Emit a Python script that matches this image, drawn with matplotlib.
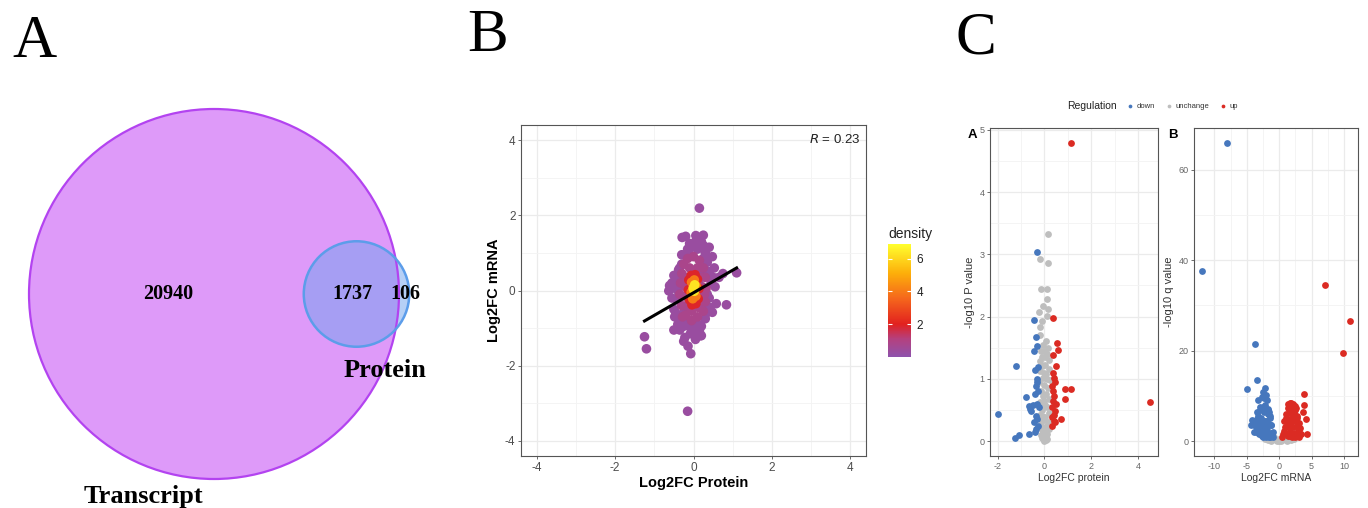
import numpy as np
import matplotlib.pyplot as plt
from matplotlib.patches import Circle
from matplotlib.colors import LinearSegmentedColormap, Normalize

plt.rcParams["axes.unicode_minus"] = False
plt.rcParams["font.family"] = ["Liberation Sans", "DejaVu Sans"]

# ---------------- data ----------------
# Venn counts
only_transcript = 20940
shared = 1737
only_protein = 106

b_outer_x = [0.15, -1.25, -1.20, -0.15, -0.07, -0.14, -0.50, -0.29, -0.20, 0.06,
             0.25, 0.20, 0.40, 0.48, 0.53, 1.10, 0.84, 0.58, 0.48, -0.63,
             -0.61, -0.22, 0.05, 0.15, -0.35, -0.05, 0.30, 0.65, 0.75, 0.35,
             -0.45, -0.50, -0.30, 0.10, -0.10, 0.30, -0.40, 0.20, -0.20, 0.45,
             -0.38, 0.40, -0.42, -0.55, 0.55, -0.45, 0.35, -0.25, 0.00, -0.12,
             0.12, -0.30, 0.25, 0.38, -0.48, -0.08, 0.18, -0.35, -0.40, -0.25,
             0.35, 0.40, 0.25, -0.15, 0.05, -0.30, 0.10, -0.10, 0.25, 0.42,
             -0.45, -0.50, 0.30, -0.20, 0.00, 0.20, -0.25, 0.50, -0.55, 0.20,
             -0.30, 0.33]
b_outer_y = [2.19, -1.23, -1.55, -3.21, -1.68, -1.48, -1.05, 1.41, 1.44, 1.46,
             1.47, 1.30, 1.15, 0.90, 0.60, 0.47, -0.38, -0.35, -0.58, -0.01,
             0.13, -1.25, -1.30, -1.08, -1.05, -1.05, -0.75, 0.35, 0.45, 0.75,
             0.30, -0.50, 0.95, 1.10, 1.25, 1.00, -0.90, -0.95, -0.85, 0.20,
             0.55, -0.20, -0.25, -0.20, 0.10, 0.05, -0.45, -0.95, 1.20, 1.05,
             -0.90, 0.70, 0.85, 0.40, -0.70, -1.15, -1.20, 0.60, 0.00, -0.60,
             -0.10, 0.50, 1.20, 1.10, 1.30, -0.75, -0.90, -0.95, -0.40, -0.45,
             -0.60, 0.40, 0.90, 0.95, -1.15, -1.20, -1.35, 0.35, 0.20, 0.55,
             0.25, -0.60]
b_mid_x = [-0.25, -0.15, 0.00, 0.15, 0.25, 0.30, 0.32, 0.30, 0.25, 0.10,
           -0.05, -0.20, -0.30, -0.35, -0.33, -0.30, -0.10, 0.10, 0.20, 0.22,
           0.20, 0.12, -0.05, -0.18, -0.22, -0.20, -0.18, 0.00, -0.28, 0.28]
b_mid_y = [0.70, 0.85, 0.90, 0.80, 0.60, 0.35, 0.05, -0.30, -0.55, -0.70,
           -0.80, -0.65, -0.40, -0.10, 0.20, 0.45, 0.60, 0.60, 0.35, 0.10,
           -0.20, -0.45, -0.55, -0.40, -0.15, 0.10, 0.35, 0.45, -0.70, -0.10]
b_ring_x = [-0.12, -0.06, 0.04, 0.10, 0.14, 0.12, 0.06, -0.04, -0.10, -0.13]
b_ring_y = [0.28, 0.40, 0.42, 0.30, 0.05, -0.22, -0.35, -0.38, -0.25, 0.02]
b_core_x = [-0.05, 0.02, 0.07, 0.06, -0.02, -0.06]
b_core_y = [0.22, 0.28, 0.12, -0.15, -0.22, -0.05]
b_peak_x = [-0.01, 0.03, 0.02]
b_peak_y = [0.06, 0.15, -0.02]
band_density = [0.3, 0.8, 1.9, 4.0, 6.3]

fit_slope = 0.60
fit_intercept = -0.06
r_value = 0.23

# Panel C-A: protein volcano
down_a_x = [-0.30, -0.46, -0.34, -0.31, -0.43, -1.21, -0.28, -0.39, -0.80, -0.62,
            -0.57, -0.66, -1.99, -1.26, -1.10, -0.68, -0.42, -0.30, -0.35, -0.28,
            -0.40, -0.32, -0.25, -0.38, -0.30, -0.27, -0.45, -0.36, -0.50, -0.33]
down_a_y = [3.03, 1.94, 1.67, 1.53, 1.44, 1.20, 1.19, 1.14, 0.70, 0.52,
            0.48, 0.56, 0.43, 0.05, 0.10, 0.12, 0.14, 0.95, 0.88, 0.80,
            0.75, 0.60, 0.55, 0.40, 0.35, 0.25, 0.30, 0.20, 0.58, 1.00]
unch_a_x = [0.16, -0.20, 0.15, -0.15, 0.12, 0.12, -0.07, -0.22, 0.17, 0.10,
            -0.12, -0.19, -0.20, 0.05, -0.05, 0.15, -0.15, 0.10, -0.10, 0.20,
            -0.20, 0.02, 0.18, -0.18, 0.08, -0.08, 0.22, -0.22, 0.00, 0.14,
            -0.14, 0.06, -0.06, 0.20, -0.20, 0.01, 0.12, -0.12, 0.18, -0.17,
            0.04, -0.04, 0.15, -0.15, 0.09, -0.09, 0.00, 0.13, -0.13, 0.07,
            -0.07, 0.20, -0.20, 0.03, -0.03, 0.10, -0.10, 0.00, 0.05, -0.05,
            0.00, -0.10, 0.10, 0.00, -0.12, 0.12, 0.02, -0.02]
unch_a_y = [3.32, 2.93, 2.86, 2.45, 2.45, 2.29, 2.17, 2.08, 2.12, 2.01,
            1.93, 1.84, 1.70, 1.60, 1.55, 1.50, 1.45, 1.40, 1.35, 1.30,
            1.28, 1.22, 1.15, 1.12, 1.08, 1.02, 0.98, 0.95, 0.90, 0.85,
            0.80, 0.75, 0.72, 0.68, 0.62, 0.58, 0.55, 0.50, 0.45, 0.42,
            0.38, 0.34, 0.30, 0.26, 0.22, 0.18, 0.14, 0.12, 0.10, 0.08,
            0.06, 0.20, 0.35, 0.04, 0.02, 0.03, 0.05, 0.00, 0.01, 0.09,
            1.45, 1.20, 1.00, 0.65, 0.40, 0.25, 1.35, 1.10]
up_a_x = [1.12, 4.53, 0.38, 0.55, 0.58, 0.37, 0.51, 0.86, 1.12, 0.90,
          0.72, 0.35, 0.40, 0.45, 0.32, 0.38, 0.42, 0.36, 0.48, 0.33,
          0.44, 0.39, 0.34, 0.47, 0.31, 0.41]
up_a_y = [4.79, 0.63, 1.98, 1.58, 1.46, 1.38, 1.20, 0.83, 0.83, 0.67,
          0.35, 1.10, 1.02, 0.95, 0.88, 0.80, 0.72, 0.65, 0.60, 0.55,
          0.48, 0.42, 0.38, 0.30, 0.25, 0.32]

# Panel C-B: mRNA volcano
down_b_x = [-8.02, -11.9, -3.78, -3.37, -5.0, -2.19, -2.45, -2.7, -3.2, -1.9,
            -2.45, -1.68, -4.2, -4.3, -3.6, -3.0, -2.5, -2.0, -1.5, -1.2,
            -3.3, -2.8, -2.2, -1.7, -1.0, -3.9, -3.1, -2.6, -2.1, -1.6,
            -1.3, -0.9, -2.9, -2.3, -1.8, -3.5, -2.0, -1.4, -2.6, -3.3,
            -2.1, -2.4, -1.8, -1.5, -1.2, -3.4, -3.8, -2.9, -2.0, -1.6,
            -2.2, -3.0, -2.7, -1.9, -1.1, -3.6, -4.0, -2.5, -3.2, -1.4]
down_b_y = [65.9, 37.7, 21.4, 13.6, 11.6, 11.7, 10.8, 9.7, 9.0, 9.0,
            7.6, 6.8, 4.6, 3.5, 3.0, 2.5, 2.0, 1.8, 1.5, 1.2,
            5.5, 5.0, 4.5, 4.0, 0.8, 2.0, 1.5, 1.2, 1.0, 0.8,
            3.5, 2.0, 7.5, 6.5, 6.0, 6.5, 3.0, 5.5, 3.5, 4.0,
            10.2, 9.5, 7.0, 5.0, 3.5, 4.8, 3.5, 4.0, 4.5, 6.5,
            8.0, 6.8, 3.0, 2.5, 1.8, 2.0, 4.2, 1.0, 2.8, 1.0]
unch_b_x = [-3.0, -2.5, -2.0, -1.5, -1.0, -0.5, 0.0, 0.5, 1.0, 1.5,
            2.0, 2.5, 3.0, -2.2, -1.2, -0.3, 0.3, 1.2, 2.2, -0.8,
            0.8, -1.8, 1.8, 0.0]
unch_b_y = [1.5, 1.2, 0.9, 0.6, 0.4, 0.2, 0.0, 0.2, 0.4, 0.6,
            0.9, 1.2, 1.5, 0.4, 0.1, 0.05, 0.05, 0.1, 0.4, 0.8,
            0.8, 0.3, 0.3, 0.5]
up_b_x = [7.1, 10.95, 9.87, 3.84, 3.84, 3.6, 4.1, 4.33, 1.8, 1.3,
          2.0, 2.5, 1.0, 1.5, 2.2, 2.8, 0.7, 1.2, 1.8, 2.4,
          3.0, 0.9, 1.5, 2.1, 2.7, 3.2, 1.1, 1.7, 2.3, 2.9,
          0.6, 1.4, 2.0, 2.6, 3.3, 2.2, 1.9, 1.3, 1.7, 2.1,
          2.5, 1.6, 2.3, 2.7, 1.9, 1.3, 2.9, 3.1, 0.8, 2.4,
          1.6, 0.5, 3.0, 1.0, 2.6]
up_b_y = [34.5, 26.6, 19.4, 10.4, 8.0, 6.5, 4.9, 1.5, 8.4, 7.4,
          7.8, 6.9, 6.0, 6.2, 5.8, 5.5, 4.5, 4.8, 4.2, 4.5,
          4.0, 3.0, 3.2, 3.0, 3.3, 2.8, 1.8, 2.0, 1.8, 2.2,
          1.5, 1.2, 1.0, 1.3, 1.6, 7.0, 6.5, 8.2, 8.5, 8.2,
          7.8, 7.2, 6.0, 5.0, 5.2, 3.8, 3.6, 2.0, 2.2, 1.0,
          1.2, 0.8, 1.0, 5.0, 7.2]

reg_colors = {"down": "#4677BD", "unchange": "#BEBEBE", "up": "#DB2B23"}

# ---------------- figure ----------------
W, H = 1368, 508
fig = plt.figure(figsize=(W / 100, H / 100), dpi=100)


def px_axes(l, t, r, b):
    return fig.add_axes([l / W, 1 - b / H, (r - l) / W, (b - t) / H])


def gg_grid(ax, xmaj, xmin_, ymaj, ymin_, size, lab_color="#4D4D4D"):
    ax.set_xticks(xmaj)
    ax.set_xticks(xmin_, minor=True)
    ax.set_yticks(ymaj)
    ax.set_yticks(ymin_, minor=True)
    ax.grid(which="major", color="#EBEBEB", lw=0.9)
    ax.grid(which="minor", color="#F3F3F3", lw=0.6)
    ax.set_axisbelow(True)
    for s in ax.spines.values():
        s.set_color("#555555")
        s.set_linewidth(0.8)
    ax.tick_params(which="minor", length=0)
    ax.tick_params(which="major", length=2.5, width=0.6, color="#555555",
                   labelcolor=lab_color, labelsize=size, pad=1.5)


serif = ["Liberation Serif", "DejaVu Serif"]

# ----- Panel A: area-proportional Venn -----
n_t = only_transcript + shared
n_p = only_protein + shared
r_t = np.sqrt(n_t / np.pi)
r_p = np.sqrt(n_p / np.pi)


def lens_area(r1, r2, d):
    a1 = r1 ** 2 * np.arccos((d * d + r1 * r1 - r2 * r2) / (2 * d * r1))
    a2 = r2 ** 2 * np.arccos((d * d + r2 * r2 - r1 * r1) / (2 * d * r2))
    a3 = 0.5 * np.sqrt((-d + r1 + r2) * (d + r1 - r2) * (d - r1 + r2) * (d + r1 + r2))
    return a1 + a2 - a3


lo, hi = abs(r_t - r_p) + 1e-9, r_t + r_p - 1e-9
for _ in range(80):
    mid = 0.5 * (lo + hi)
    if lens_area(r_t, r_p, mid) > shared:
        lo = mid
    else:
        hi = mid
d = 0.5 * (lo + hi)

axA = px_axes(0, 0, 470, 508)
scale = 185 / r_t  # px per unit
axA.set_xlim(-214 / scale, (470 - 214) / scale)
axA.set_ylim((294 - 508) / scale, 294 / scale)
axA.set_aspect("equal")
axA.axis("off")
axA.add_patch(Circle((0, 0), r_t, facecolor="#DE9AF9", edgecolor="none"))
axA.add_patch(Circle((d, 0), r_p, facecolor="#6FA3EE", alpha=0.5, edgecolor="none"))
axA.add_patch(Circle((0, 0), r_t, facecolor="none", edgecolor="#B343F0", lw=1.6))
axA.add_patch(Circle((d, 0), r_p, facecolor="none", edgecolor="#5C9DEA", lw=1.8))
axA.text(-21, 0, f"{only_transcript}", ha="center", va="center", fontsize=14.5,
         fontweight="bold", family=serif)
axA.text(d - 1.8, 0, f"{shared}", ha="center", va="center", fontsize=14.5,
         fontweight="bold", family=serif)
axA.text(d + 22.5, 0, f"{only_protein}", ha="center", va="center", fontsize=14.5,
         fontweight="bold", family=serif)
axA.text(d + 13.3, -35, "Protein", ha="center", va="center", fontsize=19,
         fontweight="bold", family=serif)
axA.text(-32.6, -93, "Transcript", ha="center", va="center", fontsize=19,
         fontweight="bold", family=serif)

fig.text(12 / W, 1 - 57 / H, "A", fontsize=44, family=serif, va="baseline")
fig.text(467 / W, 1 - 51 / H, "B", fontsize=44, family=serif, va="baseline")
fig.text(956 / W, 1 - 53 / H, "C", fontsize=44, family=serif, va="baseline")

# ----- Panel B: density scatter -----
bx = np.array(b_outer_x + b_mid_x + b_ring_x + b_core_x + b_peak_x)
by = np.array(b_outer_y + b_mid_y + b_ring_y + b_core_y + b_peak_y)
bd = np.repeat(band_density, [len(b_outer_x), len(b_mid_x), len(b_ring_x),
                              len(b_core_x), len(b_peak_x)])
order = np.argsort(bd, kind="stable")

dens_cmap = LinearSegmentedColormap.from_list(
    "dens", [(0.0, "#8E52AC"), (0.16, "#B5407E"), (0.29, "#E2211F"),
             (0.52, "#F5671C"), (0.74, "#FDAE0A"), (1.0, "#FFFF2E")])
norm = Normalize(0.0, 6.9)

axB = px_axes(521, 125, 866, 456)
sc = axB.scatter(bx[order], by[order], c=bd[order], cmap=dens_cmap, norm=norm,
                 s=48, linewidths=0, zorder=2)
fx = np.array([bx.min(), bx.max()])
axB.plot(fx, fit_intercept + fit_slope * fx, color="black", lw=2.2, zorder=3)
axB.set_xlim(-4.4, 4.4)
axB.set_ylim(-4.4, 4.4)
gg_grid(axB, [-4, -2, 0, 2, 4], [-3, -1, 1, 3], [-4, -2, 0, 2, 4], [-3, -1, 1, 3], 8.5)
axB.set_xlabel("Log2FC Protein", fontsize=10.5, fontweight="bold", labelpad=2)
axB.set_ylabel("Log2FC mRNA", fontsize=10.5, fontweight="bold", labelpad=3)
axB.text(0.985, 0.955, f"$R$ = {r_value}", transform=axB.transAxes,
         ha="right", va="center", fontsize=9.5, color="#222222")

cax = px_axes(888, 244, 911, 357)
cb = fig.colorbar(sc, cax=cax, ticks=[2, 4, 6])
cb.outline.set_visible(False)
cax.tick_params(left=True, right=True, labelleft=False, labelright=True,
                direction="in", color="white", length=3, width=0.8,
                labelsize=8.5, labelcolor="#222222", pad=4)
fig.text(888 / W, 1 - 238 / H, "density", fontsize=10, color="#222222", va="baseline")

# ----- Panel C: volcano plots -----
ms = 24
axCA = px_axes(990, 128, 1158, 456)
axCA.scatter(unch_a_x, unch_a_y, s=ms, color=reg_colors["unchange"], linewidths=0, zorder=2)
axCA.scatter(down_a_x, down_a_y, s=ms, color=reg_colors["down"], linewidths=0, zorder=3)
axCA.scatter(up_a_x, up_a_y, s=ms, color=reg_colors["up"], linewidths=0, zorder=3)
axCA.set_xlim(-2.33, 4.86)
axCA.set_ylim(-0.24, 5.03)
gg_grid(axCA, [-2, 0, 2, 4], [-1, 1, 3], [0, 1, 2, 3, 4, 5], [0.5, 1.5, 2.5, 3.5, 4.5], 6.5,
        lab_color="#666666")
axCA.set_xlabel("Log2FC protein", fontsize=7.5, labelpad=2, color="#333333")
axCA.set_ylabel("-log10 P value", fontsize=8, labelpad=3, color="#333333")
fig.text(968 / W, 1 - 138 / H, "A", fontsize=9.5, fontweight="bold")

axCB = px_axes(1194, 128, 1358, 456)
h_unch = axCB.scatter(unch_b_x, unch_b_y, s=ms, color=reg_colors["unchange"], linewidths=0,
                      zorder=2, label="unchange")
h_down = axCB.scatter(down_b_x, down_b_y, s=ms, color=reg_colors["down"], linewidths=0,
                      zorder=3, label="down")
h_up = axCB.scatter(up_b_x, up_b_y, s=ms, color=reg_colors["up"], linewidths=0,
                    zorder=3, label="up")
axCB.set_xlim(-13.15, 12.15)
axCB.set_ylim(-3.3, 69.2)
gg_grid(axCB, [-10, -5, 0, 5, 10], [-7.5, -2.5, 2.5, 7.5], [0, 20, 40, 60], [10, 30, 50], 6.5,
        lab_color="#666666")
axCB.set_xlabel("Log2FC mRNA", fontsize=7.5, labelpad=2, color="#333333")
axCB.set_ylabel("-log10 q value", fontsize=8, labelpad=3, color="#333333")
fig.text(1168 / W, 1 - 138 / H, "B", fontsize=9.5, fontweight="bold")

fig.text(1067 / W, 1 - 106 / H, "Regulation", fontsize=7.5, va="center", color="#222222")
fig.legend(handles=[h_down, h_unch, h_up], labels=["down", "unchange", "up"],
           loc="center left", bbox_to_anchor=(1122 / W, 1 - 106 / H), ncol=3,
           frameon=False, fontsize=5.5, markerscale=0.55, handletextpad=0.4,
           columnspacing=1.3, handlelength=1.0, borderpad=0, labelcolor="#333333")

fig.savefig("out.png", dpi=100)
